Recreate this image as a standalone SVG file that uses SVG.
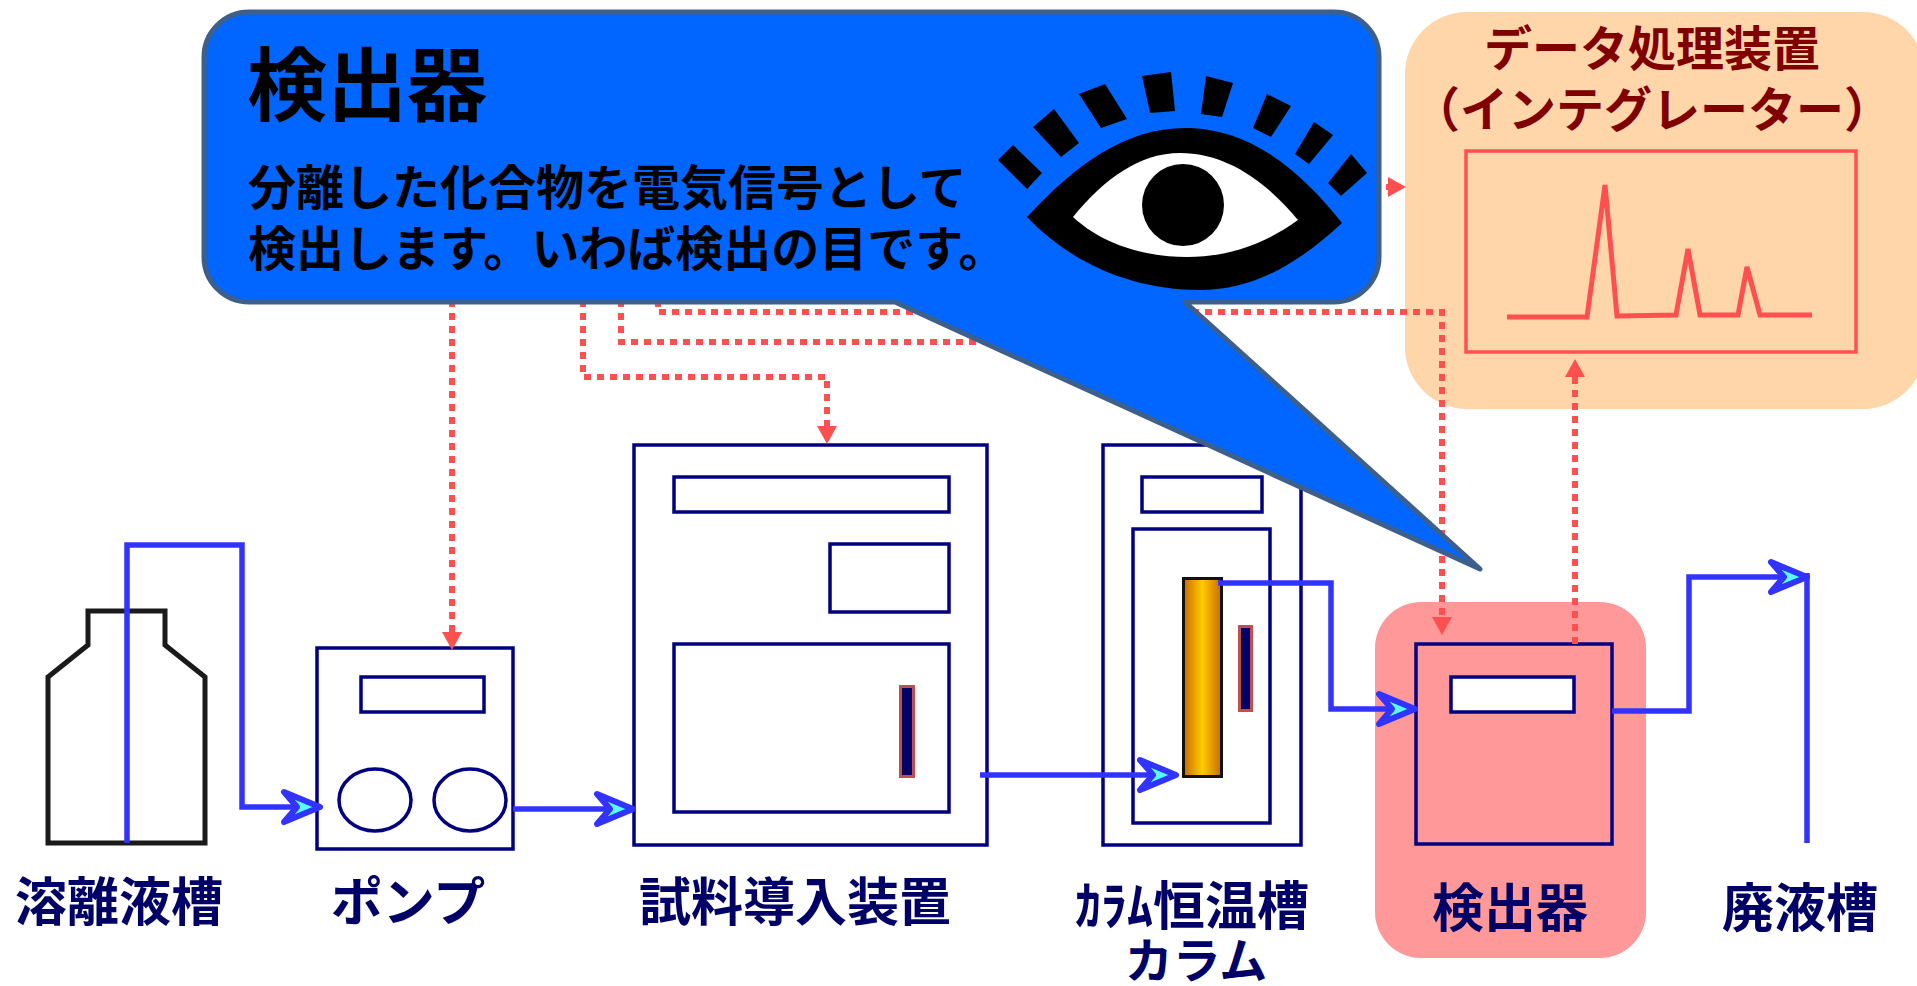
<svg xmlns="http://www.w3.org/2000/svg" width="1917" height="986" viewBox="0 0 1917 986">
  <style>
    .unit { fill: #FFFFFF; stroke: #000080; stroke-width: 3.5; }
    .hole { fill: none; stroke: #000080; stroke-width: 3.5; }
    .tube { fill: none; stroke: #3333FF; stroke-width: 5.5; stroke-linejoin: miter; }
    .signal { fill: none; stroke: #FF5050; stroke-width: 6; stroke-dasharray: 7 6; }
    .gauge { fill: #000066; stroke: #C0504D; stroke-width: 3; }
    .label { font-family: "Noto Sans CJK JP", "Noto Sans", sans-serif; font-weight: 700; font-size: 52px; fill: #000066; text-anchor: middle; }
    .note { font-family: "Noto Sans CJK JP", "Noto Sans", sans-serif; font-weight: 700; fill: #000000; }
    .dp { font-family: "Noto Sans CJK JP", "Noto Sans", sans-serif; font-weight: 700; font-size: 48px; fill: #800000; text-anchor: middle; }
  </style>
  <defs>
    <linearGradient id="packing" x1="0" y1="0" x2="1" y2="0">
      <stop offset="0" stop-color="#C86A00"/>
      <stop offset="0.5" stop-color="#FFCC00"/>
      <stop offset="1" stop-color="#C86A00"/>
    </linearGradient>
    <marker id="flow" markerUnits="userSpaceOnUse" markerWidth="60" markerHeight="50" viewBox="-50 -25 60 50" refX="0" refY="0" orient="auto">
      <path d="M-36,-15 L0,0 L-36,15 L-23,0 Z" fill="#55FFFF" stroke="#3333FF" stroke-width="6" stroke-linejoin="round"/>
    </marker>
    <marker id="sig" markerUnits="userSpaceOnUse" markerWidth="20" markerHeight="22" viewBox="0 -11 20 22" refX="0" refY="0" orient="auto">
      <path d="M0,-10 L18,0 L0,10 Z" fill="#FF5050"/>
    </marker>
  </defs>

  <rect width="1917" height="986" fill="#FFFFFF"/>

  <!-- data processor (integrator) -->
  <g id="data-processor">
    <rect x="1405" y="12" width="520" height="397" rx="62" fill="#FFD5AA"/>
    <text class="dp" x="1652" y="66">データ処理装置</text>
    <text class="dp" x="1652" y="127">（インテグレーター）</text>
    <rect x="1466" y="151" width="390" height="201" fill="none" stroke="#FF5050" stroke-width="3.5"/>
    <polyline points="1507,317 1587,317 1605,185 1617,316 1676,315 1688,249 1700,315 1738,315 1747,267 1760,315 1812,315" fill="none" stroke="#FF5050" stroke-width="5"/>
  </g>

  <!-- detector highlight -->
  <g id="detector">
    <rect x="1375" y="602" width="271" height="356" rx="46" fill="#FF9999"/>
    <rect x="1416" y="644" width="196" height="200" fill="none" stroke="#000080" stroke-width="3.5"/>
    <rect x="1451" y="677" width="123" height="35" class="unit"/>
    <text class="label" x="1510" y="927">検出器</text>
  </g>

  <!-- eluent bottle -->
  <g id="eluent">
    <path d="M48,843 V677 L88,645 V611 H165 V645 L205,677 V843 Z" fill="#FFFFFF" stroke="#1A1A1A" stroke-width="5" stroke-linejoin="miter"/>
    <text class="label" x="119" y="921">溶離液槽</text>
  </g>

  <!-- pump -->
  <g id="pump">
    <rect x="317" y="648" width="196" height="201" class="unit"/>
    <rect x="361" y="677" width="123" height="35" class="hole"/>
    <ellipse cx="375" cy="800" rx="36" ry="31" class="hole"/>
    <ellipse cx="470" cy="800" rx="36" ry="31" class="hole"/>
    <text class="label" x="408" y="921">ポンプ</text>
  </g>

  <!-- sample injector -->
  <g id="injector">
    <rect x="634" y="445" width="353" height="400" class="unit"/>
    <rect x="674" y="477" width="275" height="35" class="hole"/>
    <rect x="830" y="544" width="119" height="68" class="hole"/>
    <rect x="674" y="644" width="275" height="168" class="hole"/>
    <rect x="900.5" y="686.5" width="13" height="90" class="gauge"/>
    <text class="label" x="795" y="921">試料導入装置</text>
  </g>

  <!-- column oven and column -->
  <g id="column-oven">
    <rect x="1103" y="445" width="198" height="400" class="unit"/>
    <rect x="1142" y="477" width="120" height="35" class="hole"/>
    <rect x="1133" y="529" width="137" height="294" class="hole"/>
    <rect x="1183.5" y="578.5" width="38" height="198" fill="url(#packing)" stroke="#111111" stroke-width="3"/>
    <rect x="1239.5" y="626.5" width="12" height="84" class="gauge"/>
    <text class="label" x="1192" y="925">ｶﾗﾑ恒温槽</text>
    <text class="label" x="1196" y="978" style="font-size:48px">カラム</text>
  </g>

  <!-- waste -->
  <g id="waste">
    <text class="label" x="1800" y="927">廃液槽</text>
  </g>

  <!-- connectors: signal lines (under the callout) and flow path -->
  <g id="connectors">
    <path class="signal" d="M452,300 V632" marker-end="url(#sig)"/>
    <path class="signal" d="M583,300 V377 H827 V426" marker-end="url(#sig)"/>
    <path class="signal" d="M621,300 V342 H1100 V187 H1388" marker-end="url(#sig)"/>
    <path class="signal" d="M658,300 V312 H1442 V617" marker-end="url(#sig)"/>
    <path class="signal" d="M1575,644 V377" marker-end="url(#sig)"/>

    <path class="tube" d="M127,843 V545 H242 V807 H320" marker-end="url(#flow)"/>
    <path class="tube" d="M513,809 H633" marker-end="url(#flow)"/>
    <path class="tube" d="M980,775 H1176" marker-end="url(#flow)"/>
    <path class="tube" d="M1218,583 H1331 V709 H1415" marker-end="url(#flow)"/>
    <path class="tube" d="M1612,711 H1689 V577 H1807" marker-end="url(#flow)"/>
    <path class="tube" d="M1807,573 V843"/>
  </g>

  <!-- speech-bubble explanation of the detector -->
  <g id="callout">
    <path d="M249,12 H1334 A45,45 0 0 1 1379,57 V257 A45,45 0 0 1 1334,302 H1185 L1480,569 L895,302 H249 A45,45 0 0 1 204,257 V57 A45,45 0 0 1 249,12 Z" fill="#0066FF" stroke="#3D5F8C" stroke-width="5" stroke-linejoin="round"/>
    <text class="note" x="247" y="114" font-size="80">検出器</text>
    <text class="note" x="248" y="205" font-size="48">分離した化合物を電気信号として</text>
    <text class="note" x="248" y="266" font-size="48">検出します。いわば検出の目です。</text>
    <!-- eye -->
    <g id="eye">
      <polygon points="998,160 1013,145 1042,173 1027,189"/>
      <polygon points="1033,127 1054,109 1079,143 1061,157"/>
      <polygon points="1079,94 1105,84 1127,119 1101,128"/>
      <polygon points="1142,76 1171,72 1175,111 1150,113"/>
      <polygon points="1206,76 1233,83 1222,117 1201,114"/>
      <polygon points="1267,94 1291,106 1271,137 1253,128"/>
      <polygon points="1314,122 1333,135 1309,164 1295,154"/>
      <polygon points="1351,154 1367,173 1341,196 1328,183"/>
      <path d="M1027,217 C1075,165 1125,128 1185,128 C1250,128 1300,170 1342,223 C1300,262 1255,290 1200,290 C1130,290 1070,262 1027,217 Z" fill="#000000"/>
      <path d="M1073,217 C1105,178 1140,153 1180,153 C1225,153 1265,180 1298,220 C1265,244 1228,257 1187,257 C1140,257 1100,242 1073,217 Z" fill="#FFFFFF"/>
      <circle cx="1183" cy="205" r="41" fill="#000000"/>
    </g>
  </g>
</svg>
